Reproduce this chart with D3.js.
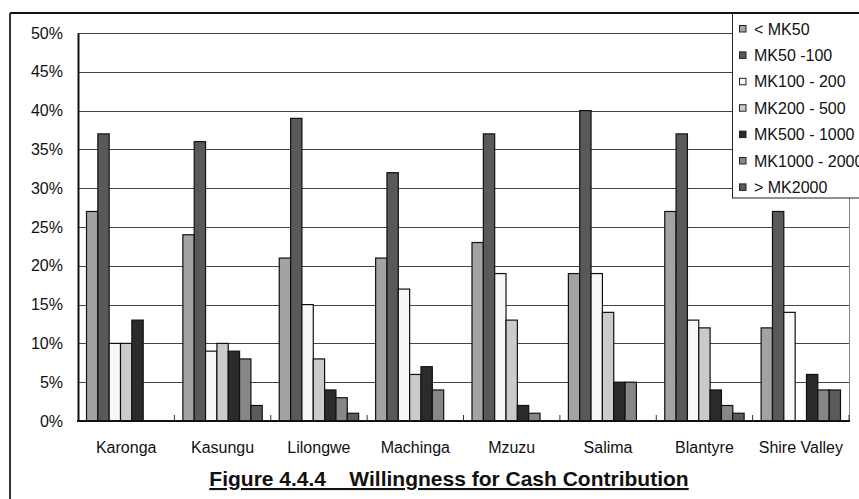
<!DOCTYPE html>
<html>
<head>
<meta charset="utf-8">
<script src="https://cdn.jsdelivr.net/npm/d3@7"></script>
<style>
  html, body { margin: 0; padding: 0; background: #fff; }
  svg { display: block; font-family: Arial, "Liberation Sans", sans-serif; }
</style>
</head>
<body>
<svg id="chart" width="859" height="499"></svg>
<script>
// Districts along the x axis
const districts = ["Karonga", "Kasungu", "Lilongwe", "Machinga", "Mzuzu", "Salima", "Blantyre", "Shire Valley"];

// Contribution bands (legend order)
const bands = ["< MK50", "MK50 -100", "MK100 - 200", "MK200 - 500", "MK500 - 1000", "MK1000 - 2000", "> MK2000"];
const bandColors = ["#a3a3a3", "#595959", "#f8f8f8", "#cbcbcb", "#2b2b2b", "#878787", "#5b5b5b"];

// Share of respondents (%) per band, one array per district
const karonga     = [27, 37, 10, 10, 13, 0, 0];
const kasungu     = [24, 36,  9, 10,  9, 8, 2];
const lilongwe    = [21, 39, 15,  8,  4, 3, 1];
const machinga    = [21, 32, 17,  6,  7, 4, 0];
const mzuzu       = [23, 37, 19, 13,  2, 1, 0];
const salima      = [19, 40, 19, 14,  5, 5, 0];
const blantyre    = [27, 37, 13, 12,  4, 2, 1];
const shireValley = [12, 27, 14,  0,  6, 4, 4];

const yTicks = [0, 5, 10, 15, 20, 25, 30, 35, 40, 45, 50];
const title = "Figure 4.4.4    Willingness for Cash Contribution";

const table = [karonga, kasungu, lilongwe, machinga, mzuzu, salima, blantyre, shireValley];

const svg = d3.select("#chart");

const plot = { left: 78, right: 849, top: 33, bottom: 421 };

const x0 = d3.scaleBand().domain(districts).range([plot.left, plot.right]).padding(0);
const x1 = d3.scaleBand().domain(bands).range([0, x0.bandwidth()]).paddingInner(0).paddingOuter(0.75);
const y = d3.scaleLinear().domain([0, 50]).range([plot.bottom, plot.top]);

// Outer frame (top and left edges)
svg.append("line").attr("x1", 10).attr("x2", 859).attr("y1", 13).attr("y2", 13)
  .attr("stroke", "#111").attr("stroke-width", 2);
svg.append("line").attr("x1", 10).attr("x2", 10).attr("y1", 13).attr("y2", 499)
  .attr("stroke", "#333").attr("stroke-width", 2);

// Horizontal gridlines
svg.append("g")
  .selectAll("line")
  .data(yTicks.filter(t => t > 0))
  .join("line")
  .attr("x1", plot.left).attr("x2", plot.right)
  .attr("y1", d => Math.round(y(d)) + 0.5).attr("y2", d => Math.round(y(d)) + 0.5)
  .attr("stroke", "#444").attr("stroke-width", 1);

// Plot area right edge
svg.append("line").attr("x1", plot.right + 0.5).attr("x2", plot.right + 0.5)
  .attr("y1", plot.top).attr("y2", plot.bottom)
  .attr("stroke", "#888").attr("stroke-width", 1);

// Y axis
const yAxis = d3.axisLeft(y).tickValues(yTicks).tickFormat(d => d + "%").tickSize(0).tickPadding(15);
const gy = svg.append("g").attr("transform", `translate(${plot.left},0)`).call(yAxis);
gy.select(".domain").attr("stroke", "#111").attr("stroke-width", 2);
gy.selectAll("text").attr("font-size", 16).attr("fill", "#111")
  .attr("font-family", "Arial, 'Liberation Sans', sans-serif");

// Bars
const groups = svg.append("g")
  .selectAll("g")
  .data(districts)
  .join("g")
  .attr("transform", d => `translate(${x0(d)},0)`);

groups.selectAll("rect")
  .data((d, i) => bands.map((b, j) => ({ band: b, value: table[i][j], color: bandColors[j] })).filter(e => e.value > 0))
  .join("rect")
  .attr("x", d => x1(d.band))
  .attr("width", x1.bandwidth())
  .attr("y", d => y(d.value))
  .attr("height", d => y(0) - y(d.value))
  .attr("fill", d => d.color)
  .attr("stroke", "#111")
  .attr("stroke-width", 1.2);

// X axis with inward ticks at group boundaries
const gx = svg.append("g").attr("transform", `translate(0,${plot.bottom})`);
gx.append("line").attr("x1", plot.left - 1).attr("x2", plot.right + 1).attr("y1", 0).attr("y2", 0)
  .attr("stroke", "#111").attr("stroke-width", 2);
gx.selectAll("line.tick")
  .data(districts.slice(1).map(d => x0(d)).concat([plot.right]))
  .join("line")
  .attr("class", "tick")
  .attr("x1", d => d).attr("x2", d => d)
  .attr("y1", 0).attr("y2", -6)
  .attr("stroke", "#333").attr("stroke-width", 1);
gx.selectAll("text")
  .data(districts)
  .join("text")
  .attr("x", d => x0(d) + x0.bandwidth() / 2)
  .attr("y", 32)
  .attr("text-anchor", "middle")
  .attr("font-size", 16)
  .attr("fill", "#111")
  .text(d => d);

// Legend
const legend = svg.append("g");
legend.append("rect")
  .attr("x", 732.5).attr("y", 13).attr("width", 140).attr("height", 185)
  .attr("fill", "#fff").attr("stroke", "#222").attr("stroke-width", 1);
svg.append("line").attr("x1", 732).attr("x2", 859).attr("y1", 13).attr("y2", 13)
  .attr("stroke", "#111").attr("stroke-width", 2);
const items = legend.selectAll("g.item")
  .data(bands)
  .join("g")
  .attr("class", "item")
  .attr("transform", (d, i) => `translate(0,${29 + i * 26.4})`);
items.append("rect")
  .attr("x", 739.5).attr("y", -3.5).attr("width", 6.5).attr("height", 6.5)
  .attr("fill", (d, i) => bandColors[i]).attr("stroke", "#222").attr("stroke-width", 1);
items.append("text")
  .attr("x", 754).attr("y", 5.5)
  .attr("font-size", 16).attr("fill", "#111")
  .text(d => d);

// Figure caption
svg.append("text")
  .attr("x", 449).attr("y", 486)
  .attr("text-anchor", "middle")
  .attr("font-size", 21).attr("font-weight", "bold")
  .attr("fill", "#111")
  .style("white-space", "pre")
  .style("text-decoration", "underline")
  .text(title);
</script>
</body>
</html>
